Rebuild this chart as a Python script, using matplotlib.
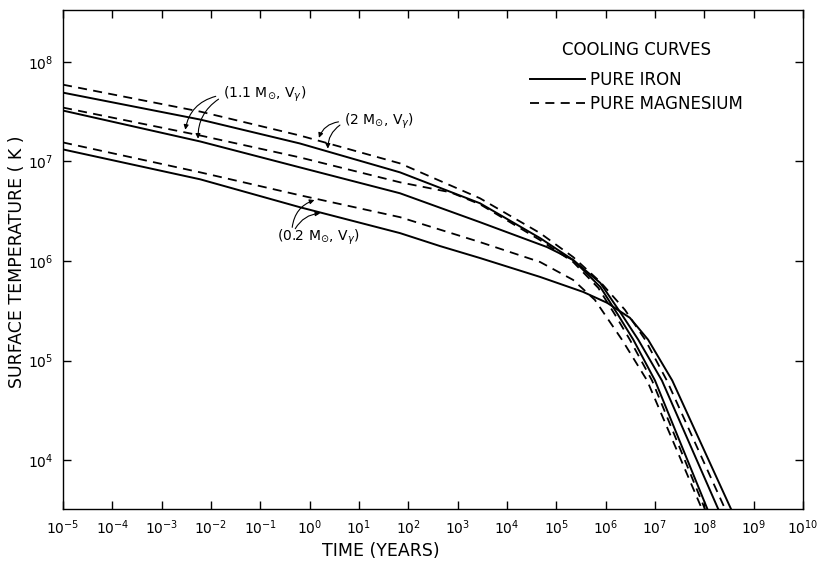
import numpy as np
import matplotlib
matplotlib.use("Agg")
import matplotlib.pyplot as plt
from matplotlib.lines import Line2D
from matplotlib.ticker import LogLocator, LogFormatterMathtext, NullLocator

plt.rcParams['font.family'] = ['DejaVu Sans']
plt.rcParams['mathtext.fontset'] = 'dejavusans'

# log10(time / yr) and log10(T_surface / K)
fe_2_logt = [-5.00, -2.22, -0.20, 1.83, 3.45, 4.67, 5.34, 5.89, 6.25, 6.56, 7.00, 8.07]
fe_2_logT = [7.69, 7.42, 7.18, 6.89, 6.58, 6.23, 6.01, 5.74, 5.46, 5.21, 4.80, 3.50]
mg_2_logt = [-5.00, -2.22, -0.20, 1.83, 3.45, 4.67, 5.34, 5.89, 6.39, 6.80, 7.24, 8.43]
mg_2_logT = [7.77, 7.50, 7.26, 6.98, 6.63, 6.28, 6.04, 5.79, 5.51, 5.21, 4.80, 3.50]

fe_11_logt = [-5.00, -2.22, -0.20, 1.83, 3.45, 4.81, 5.34, 5.89, 6.33, 6.66, 7.14, 8.29]
fe_11_logT = [7.51, 7.20, 6.94, 6.68, 6.39, 6.14, 6.01, 5.78, 5.46, 5.21, 4.80, 3.50]
mg_11_logt = [-5.00, -2.22, -0.20, 1.83, 2.85, 3.45, 4.67, 5.34, 5.85, 6.19, 6.49, 6.94, 8.02]
mg_11_logT = [7.54, 7.26, 7.04, 6.79, 6.69, 6.57, 6.21, 5.99, 5.73, 5.46, 5.21, 4.80, 3.50]

fe_02_logt = [-5.00, -2.22, -0.20, 1.83, 2.64, 3.45, 4.67, 5.54, 6.03, 6.49, 6.86, 7.35, 8.55]
fe_02_logT = [7.12, 6.82, 6.54, 6.28, 6.15, 6.03, 5.84, 5.69, 5.58, 5.43, 5.21, 4.80, 3.50]
mg_02_logt = [-5.00, -2.22, -0.20, 1.83, 3.45, 4.67, 5.34, 5.78, 6.33, 6.84, 7.96]
mg_02_logT = [7.19, 6.89, 6.66, 6.44, 6.19, 5.99, 5.81, 5.61, 5.21, 4.80, 3.50]

iron_curves = [(fe_2_logt, fe_2_logT), (fe_11_logt, fe_11_logT), (fe_02_logt, fe_02_logT)]
mg_curves = [(mg_2_logt, mg_2_logT), (mg_11_logt, mg_11_logT), (mg_02_logt, mg_02_logT)]

dash = (0, (5, 3.5))

fig = plt.figure(figsize=(8.24, 5.61), dpi=100)
ax = fig.add_axes([0.0765, 0.0927, 0.898, 0.8895])

for lt, lT in iron_curves:
    ax.plot(10.0 ** np.array(lt), 10.0 ** np.array(lT), color='black', lw=1.4)
for lt, lT in mg_curves:
    ax.plot(10.0 ** np.array(lt), 10.0 ** np.array(lT), color='black', lw=1.3, linestyle=dash)

ax.set_xscale('log')
ax.set_yscale('log')
ax.set_xlim(1e-5, 1e10)
ax.set_ylim(10 ** 3.51, 10 ** 8.52)

ax.xaxis.set_major_locator(LogLocator(base=10, numticks=20))
ax.yaxis.set_major_locator(LogLocator(base=10, numticks=20))
ax.xaxis.set_major_formatter(LogFormatterMathtext())
ax.yaxis.set_major_formatter(LogFormatterMathtext())
ax.xaxis.set_minor_locator(NullLocator())
ax.yaxis.set_minor_locator(NullLocator())
ax.tick_params(which='major', direction='in', length=6, width=1, top=True, right=True,
               labelsize=10, pad=7)

for s in ax.spines.values():
    s.set_linewidth(1.0)

ax.set_xlabel('TIME (YEARS)', fontsize=12.5)
ax.xaxis.set_label_coords(0.43, -0.066)
ax.set_ylabel('SURFACE TEMPERATURE ( K )', fontsize=12.5)
ax.yaxis.set_label_coords(-0.050, 0.495)

handles = [Line2D([], [], color='black', lw=1.4),
           Line2D([], [], color='black', lw=1.3, linestyle=dash)]
leg = ax.legend(handles, ['PURE IRON', 'PURE MAGNESIUM'], title='COOLING CURVES',
                loc='upper right', bbox_to_anchor=(0.93, 0.955), frameon=False,
                fontsize=12, title_fontsize=12, handlelength=3.3, handletextpad=0.3,
                borderpad=0, labelspacing=0.35)
leg._legend_box.sep = 9

arrow = dict(arrowstyle='-|>', color='black', lw=0.8, mutation_scale=7)

# (1.1 Msun) labels
ax.text(10 ** -1.76, 10 ** 7.67, r'(1.1 M$_{\odot}$, V$_{\gamma}$)', fontsize=10,
        ha='left', va='center')
ax.annotate('', xy=(10 ** -2.53, 10 ** 7.29), xytext=(10 ** -1.85, 10 ** 7.66),
            arrowprops=dict(arrow, connectionstyle='arc3,rad=0.35'))
ax.annotate('', xy=(10 ** -2.26, 10 ** 7.20), xytext=(10 ** -1.80, 10 ** 7.64),
            arrowprops=dict(arrow, connectionstyle='arc3,rad=0.3'))

# (2 Msun) labels
ax.text(10 ** 0.70, 10 ** 7.40, r'(2 M$_{\odot}$, V$_{\gamma}$)', fontsize=10,
        ha='left', va='center')
ax.annotate('', xy=(10 ** 0.17, 10 ** 7.21), xytext=(10 ** 0.64, 10 ** 7.40),
            arrowprops=dict(arrow, connectionstyle='arc3,rad=0.35'))
ax.annotate('', xy=(10 ** 0.37, 10 ** 7.10), xytext=(10 ** 0.66, 10 ** 7.38),
            arrowprops=dict(arrow, connectionstyle='arc3,rad=0.3'))

# (0.2 Msun) labels
ax.text(10 ** -0.66, 10 ** 6.24, r'(0.2 M$_{\odot}$, V$_{\gamma}$)', fontsize=10,
        ha='left', va='center')
ax.annotate('', xy=(10 ** 0.15, 10 ** 6.62), xytext=(10 ** -0.36, 10 ** 6.31),
            arrowprops=dict(arrow, connectionstyle='arc3,rad=-0.35'))
ax.annotate('', xy=(10 ** 0.27, 10 ** 6.48), xytext=(10 ** -0.32, 10 ** 6.30),
            arrowprops=dict(arrow, connectionstyle='arc3,rad=-0.3'))

fig.savefig('out.png', dpi=100)
